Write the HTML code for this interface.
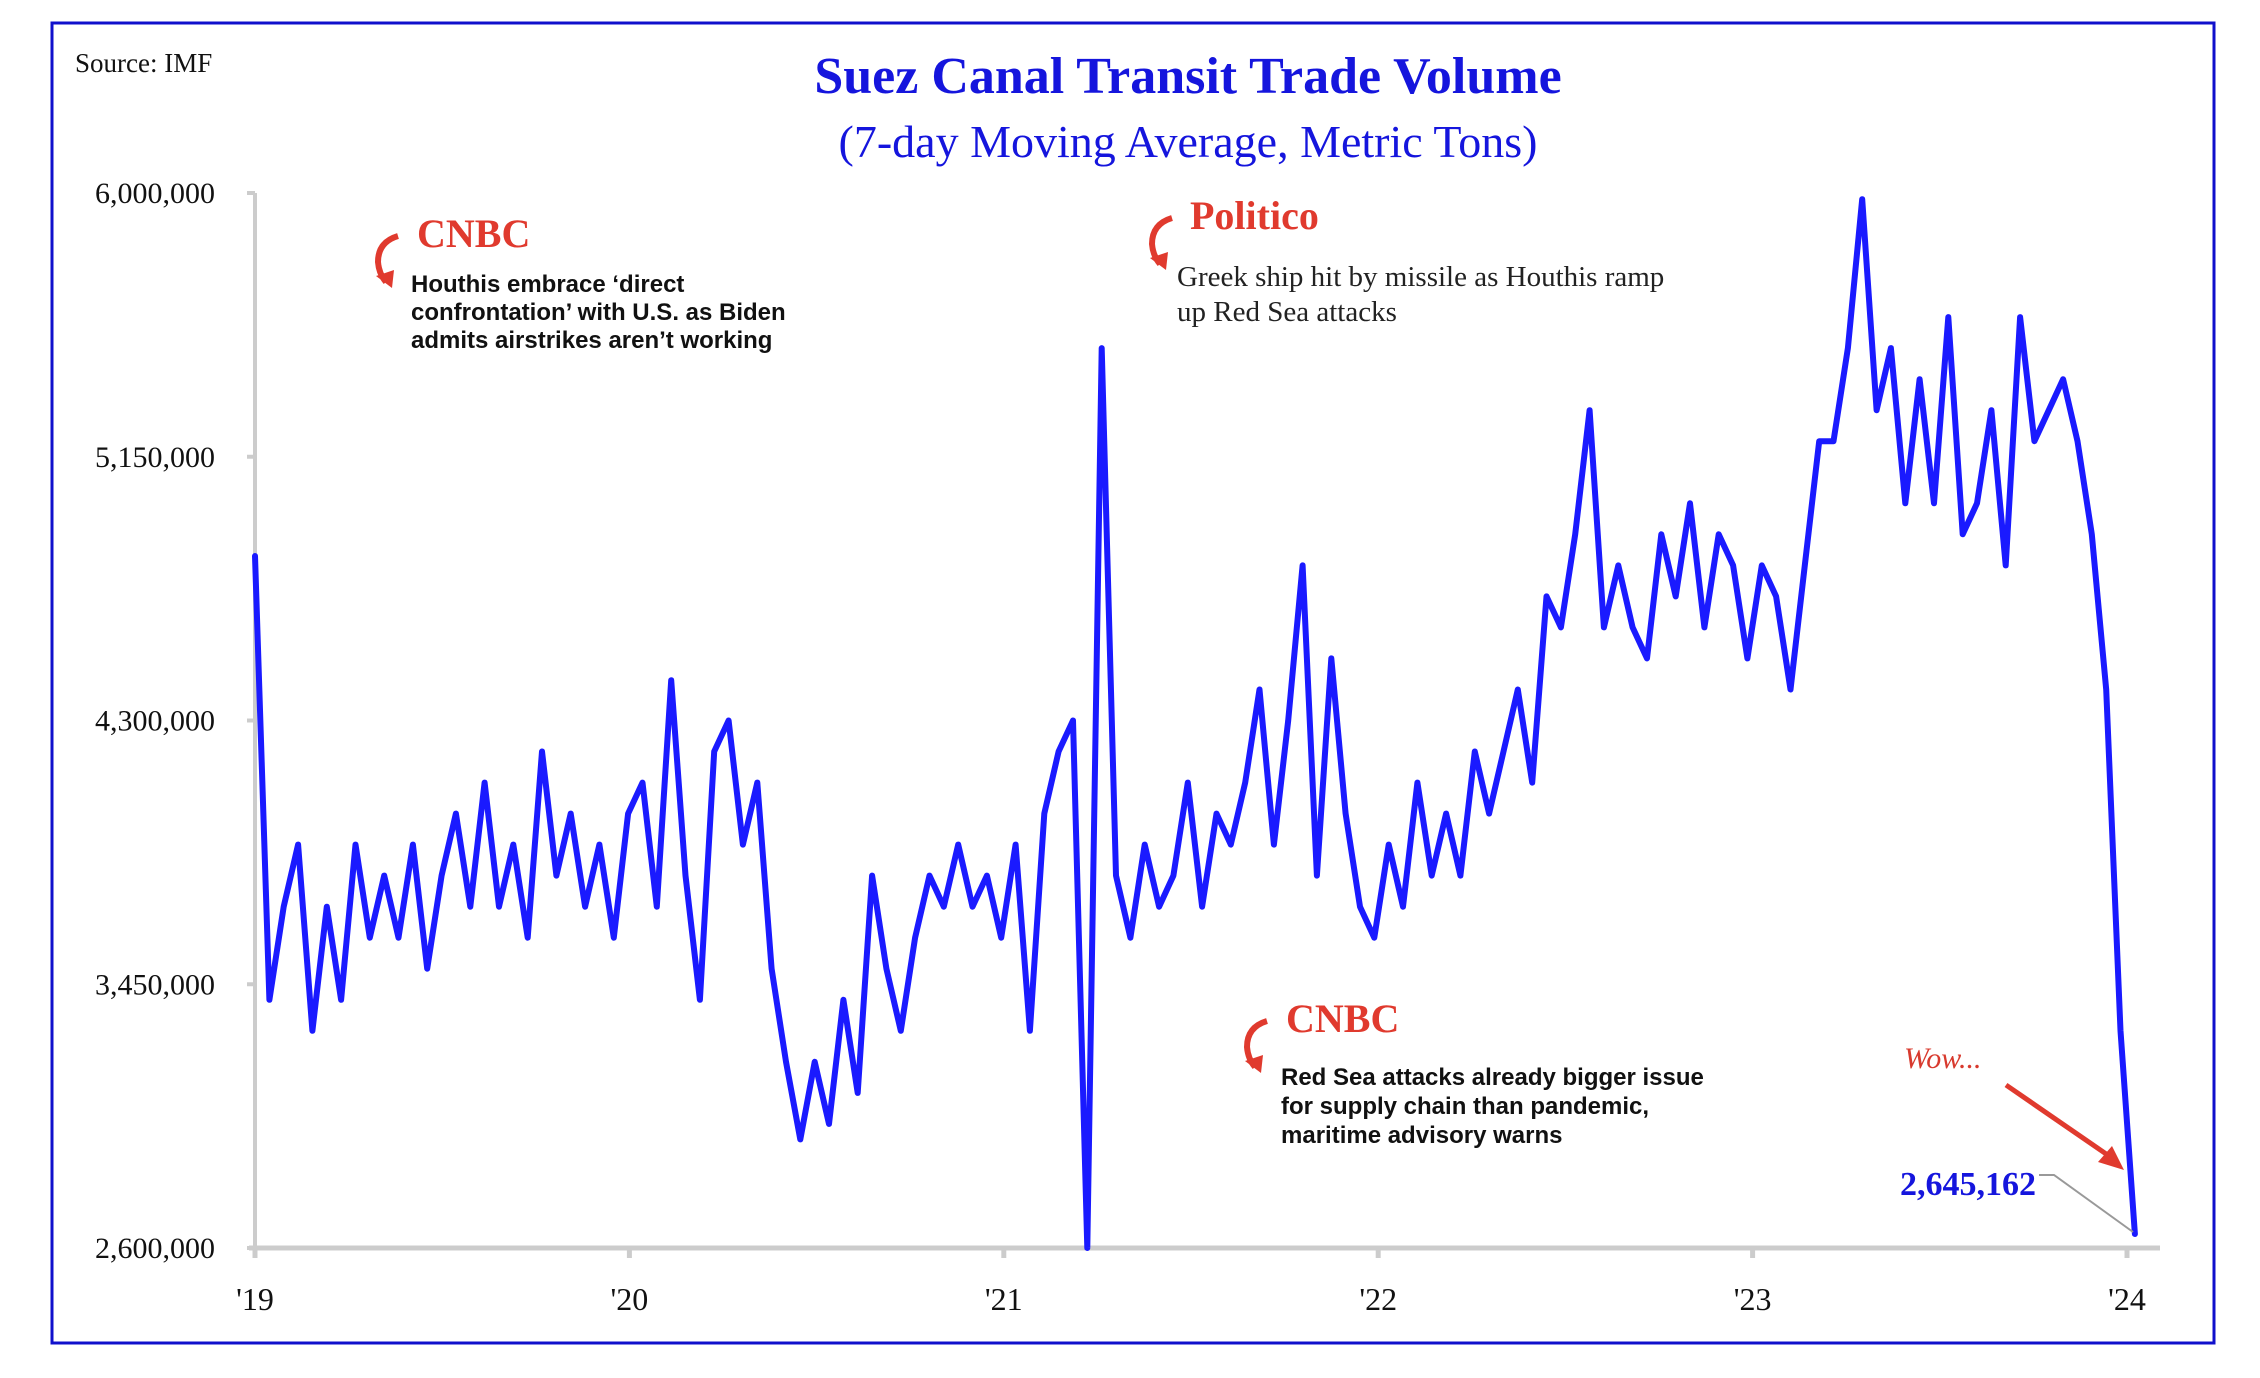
<!DOCTYPE html>
<html><head><meta charset="utf-8">
<style>
html,body{margin:0;padding:0;background:#fff;}
svg{display:block;}
</style></head>
<body>
<svg id="chart" width="2260" height="1378" viewBox="0 0 2260 1378" xmlns="http://www.w3.org/2000/svg">
  <rect x="52" y="23" width="2162" height="1320" fill="#fff" stroke="#1010cc" stroke-width="3"/>
  <text x="75" y="72" font-family="Liberation Serif, serif" font-size="27" fill="#111">Source: IMF</text>
  <text x="1188" y="93" text-anchor="middle" font-family="Liberation Serif, serif" font-weight="bold" font-size="52" fill="#1515dd">Suez Canal Transit Trade Volume</text>
  <text x="1188" y="157" text-anchor="middle" font-family="Liberation Serif, serif" font-size="46" fill="#1515dd">(7-day Moving Average, Metric Tons)</text>

  <g id="axes"></g>
  <g id="series"></g>

  <g>
    <path d="M398,236 Q378,242 378,262 Q379,274 386,282" fill="none" stroke="#e03a2e" stroke-width="6"/>
    <path d="M376,276 L392,288 L394,270 Z" fill="#e03a2e"/>
    <text x="417" y="247" font-family="Liberation Serif, serif" font-weight="bold" font-size="40" fill="#e03a2e">CNBC</text>
    <text font-family="Liberation Sans, sans-serif" font-weight="bold" font-size="24" fill="#111">
      <tspan x="411" y="292">Houthis embrace ‘direct</tspan>
      <tspan x="411" y="320">confrontation’ with U.S. as Biden</tspan>
      <tspan x="411" y="348">admits airstrikes aren’t working</tspan>
    </text>
  </g>
  <g>
    <path d="M1172,218 Q1152,224 1152,244 Q1153,256 1160,264" fill="none" stroke="#e03a2e" stroke-width="6"/>
    <path d="M1150,258 L1166,270 L1168,252 Z" fill="#e03a2e"/>
    <text x="1190" y="229" font-family="Liberation Serif, serif" font-weight="bold" font-size="40" fill="#e03a2e">Politico</text>
    <text font-family="Liberation Serif, serif" font-size="29" fill="#222">
      <tspan x="1177" y="286">Greek ship hit by missile as Houthis ramp</tspan>
      <tspan x="1177" y="321">up Red Sea attacks</tspan>
    </text>
  </g>
  <g>
    <path d="M1267,1021 Q1247,1027 1247,1047 Q1248,1059 1255,1067" fill="none" stroke="#e03a2e" stroke-width="6"/>
    <path d="M1245,1061 L1261,1073 L1263,1055 Z" fill="#e03a2e"/>
    <text x="1286" y="1032" font-family="Liberation Serif, serif" font-weight="bold" font-size="40" fill="#e03a2e">CNBC</text>
    <text font-family="Liberation Sans, sans-serif" font-weight="bold" font-size="24" fill="#111">
      <tspan x="1281" y="1085">Red Sea attacks already bigger issue</tspan>
      <tspan x="1281" y="1114">for supply chain than pandemic,</tspan>
      <tspan x="1281" y="1143">maritime advisory warns</tspan>
    </text>
  </g>
  <g>
    <text x="1904" y="1068" font-family="Liberation Serif, serif" font-style="italic" font-size="30" fill="#d83a2e">Wow...</text>
    <line x1="2006" y1="1085" x2="2112" y2="1158" stroke="#e03a2e" stroke-width="5"/>
    <path d="M2124,1170 L2098,1162 L2112,1146 Z" fill="#e03a2e"/>
  </g>
  <g>
    <text x="1968" y="1195" text-anchor="middle" font-family="Liberation Serif, serif" font-weight="bold" font-size="34" fill="#1515dd">2,645,162</text>
    <polyline points="2039,1175 2054,1175 2133,1232" fill="none" stroke="#999" stroke-width="2"/>
  </g>
</svg>
<script>
// sample week (since Jan 1 2019), every 2 weeks
const weeks = [];
for (let w = 0; w <= 262; w += 2) weeks.push(w);
// values in millions of metric tons, one row per year (26 samples each)
const tons = [
4.83,3.4,3.7,3.9,3.3,3.7,3.4,3.9,3.6,3.8,3.6,3.9,3.5,3.8,4.0,3.7,4.1,3.7,3.9,3.6,4.2,3.8,4.0,3.7,3.9,3.6,
4.0,4.1,3.7,4.43,3.8,3.4,4.2,4.3,3.9,4.1,3.5,3.2,2.95,3.2,3.0,3.4,3.1,3.8,3.5,3.3,3.6,3.8,3.7,3.9,3.7,3.8,
3.6,3.9,3.3,4.0,4.2,4.3,2.6,5.5,3.8,3.6,3.9,3.7,3.8,4.1,3.7,4.0,3.9,4.1,4.4,3.9,4.3,4.8,3.8,4.5,4.0,3.7,
3.6,3.9,3.7,4.1,3.8,4.0,3.8,4.2,4.0,4.2,4.4,4.1,4.7,4.6,4.9,5.3,4.6,4.8,4.6,4.5,4.9,4.7,5.0,4.6,4.9,4.8,
4.5,4.8,4.7,4.4,4.8,5.2,5.2,5.5,5.98,5.3,5.5,5.0,5.4,5.0,5.6,4.9,5.0,5.3,4.8,5.6,5.2,5.3,5.4,5.2,4.9,4.4,
3.3,2.645];
const yTicks = [2.6,3.45,4.3,5.15,6.0];
const yTickLabels = ["2,600,000","3,450,000","4,300,000","5,150,000","6,000,000"];
const xTickYears = [0,1,2,3,4,5];
const xTickLabels = ["'19","'20","'21","'22","'23","'24"];

const NS = "http://www.w3.org/2000/svg";
const X0 = 255, PXPERYEAR = 374.4, WEEKSPERYEAR = 52.18;
const Y0 = 1248, Y1 = 193, VMIN = 2.6, VMAX = 6.0;
function xScale(w){ return X0 + (w / WEEKSPERYEAR) * PXPERYEAR; }
function xYear(y){ return X0 + y * PXPERYEAR; }
function yScale(v){ return Y0 - (v - VMIN) / (VMAX - VMIN) * (Y0 - Y1); }

const axes = document.getElementById('axes');
function mk(tag, attrs, parent){ const e = document.createElementNS(NS, tag); for (const k in attrs) e.setAttribute(k, attrs[k]); parent.appendChild(e); return e; }

const yAxis = mk('line', {x1:X0, y1:Y1, x2:X0, y2:Y0, stroke:'#cccccc', 'stroke-width':4}, axes);


const xAxis = mk('line', {x1:X0-6, y1:Y0, x2:2160, y2:Y0, stroke:'#cccccc', 'stroke-width':5}, axes);



yTicks.forEach((v, i) => {
  const y = yScale(v);
  const tk = mk('line', {x1:X0-8, y1:y, x2:X0, y2:y, stroke:'#cccccc', 'stroke-width':4}, axes);
  
  
  const t = mk('text', {x:215, y:y+10, 'text-anchor':'end', 'font-family':'Liberation Serif, serif', 'font-size':30, fill:'#111'}, axes);
  t.textContent = yTickLabels[i];
  
  
});
xTickYears.forEach((yr, i) => {
  const x = xYear(yr);
  const tk = mk('line', {x1:x, y1:Y0, x2:x, y2:Y0+10, stroke:'#cccccc', 'stroke-width':5}, axes);
  
  
  const t = mk('text', {x:x, y:1310, 'text-anchor':'middle', 'font-family':'Liberation Serif, serif', 'font-size':32, fill:'#111'}, axes);
  t.textContent = xTickLabels[i];
  
  
});

const n = Math.min(weeks.length, tons.length);
const pts = [];
for (let i = 0; i < n; i++) pts.push(xScale(weeks[i]).toFixed(1) + ',' + yScale(tons[i]).toFixed(1));
const line = mk('polyline', {points:pts.join(' '), fill:'none', stroke:'#1a1aff', 'stroke-width':6, 'stroke-linejoin':'round', 'stroke-linecap':'round'}, document.getElementById('series'));


</script>
</body></html>
